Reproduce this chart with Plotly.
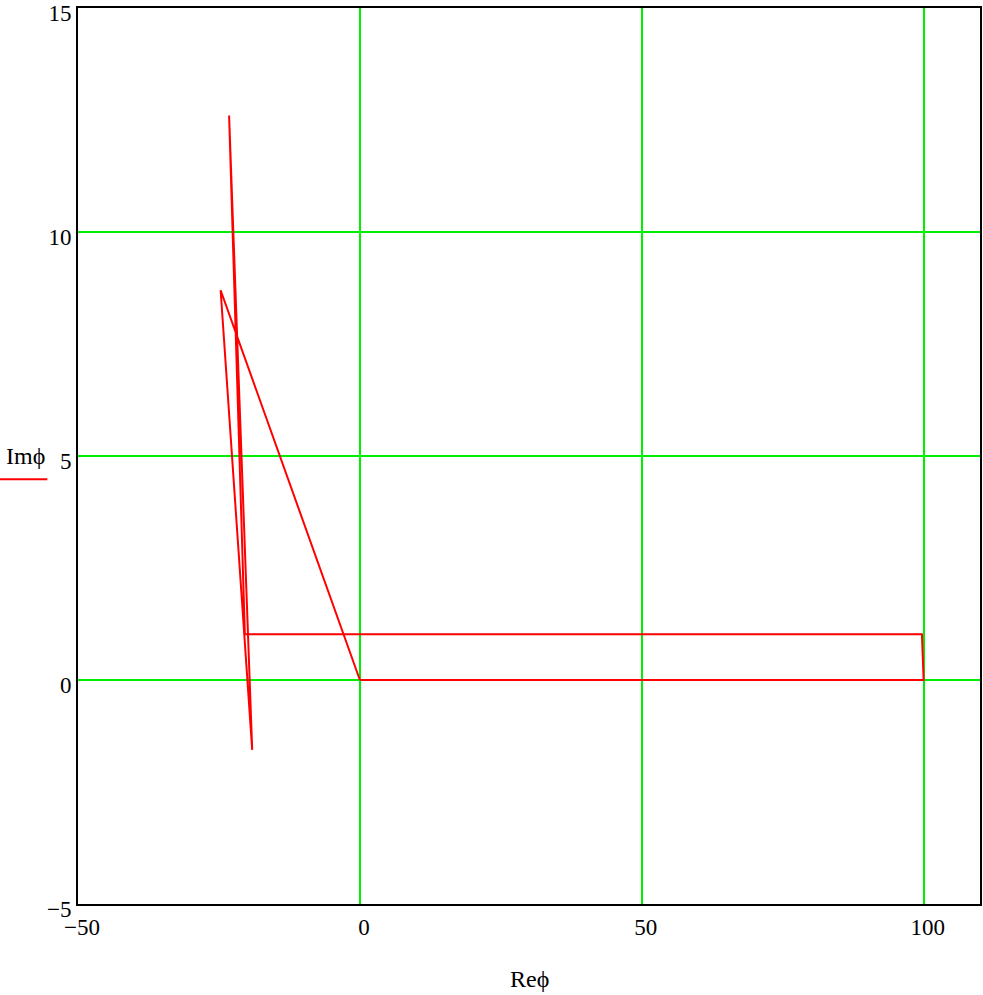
import plotly.graph_objects as go

# Path of phi in the complex plane (Re, Im)
re_phi = [0.0, 100.0, 99.7, -20.4, -23.2, -19.1, -24.7, 0.0]
im_phi = [0.0, 0.0, 1.02, 1.02, 12.6, -1.56, 8.7, 0.0]

x_ticks = [-50, 0, 50, 100]
y_ticks = [-5, 0, 5, 10, 15]

FONT = "Liberation Serif"

fig = go.Figure()
fig.add_trace(go.Scatter(x=re_phi, y=im_phi, mode="lines",
                         line=dict(color="#ff0000", width=2), showlegend=False,
                         hoverinfo="skip"))

fig.update_layout(
    width=983, height=995,
    margin=dict(l=78, r=3, t=8, b=91),
    plot_bgcolor="white", paper_bgcolor="white",
    font=dict(family=FONT, size=23, color="black"),
    xaxis=dict(range=[-50, 110], tickvals=x_ticks, showgrid=True,
               gridcolor="#00ee00", gridwidth=2, zeroline=False,
               showline=True, linecolor="black", linewidth=2, mirror=True,
               ticks="", ticklabelstandoff=1, automargin=False,
               ticklabeloverflow="allow", ticklabelshift=4),
    yaxis=dict(range=[-5.0005, 15.0005], tickvals=y_ticks, showgrid=True,
               gridcolor="#00ee00", gridwidth=2, zeroline=False,
               showline=True, linecolor="black", linewidth=2, mirror=True,
               ticks="", ticklabelstandoff=0, automargin=False,
               ticklabeloverflow="allow", ticklabelshift=5),
)

# axis titles in Mathcad style
fig.add_annotation(text="Reϕ", xref="paper", yref="paper", x=0.5, y=-0.084,
                   showarrow=False, font=dict(family=FONT, size=24),
                   xanchor="center", yanchor="middle")
fig.add_annotation(text="Imϕ", xref="paper", yref="paper", x=-0.058, y=0.5,
                   showarrow=False, font=dict(family=FONT, size=24),
                   xanchor="center", yanchor="middle")
fig.add_shape(type="line", xref="paper", yref="paper",
              x0=-0.0865, x1=-0.034, y0=0.474, y1=0.474,
              line=dict(color="#ff0000", width=2))

fig.write_html("out.html",
               config={"displayModeBar": False},
               post_script="document.body.style.margin='0';"
                           "document.body.style.overflow='hidden';")
